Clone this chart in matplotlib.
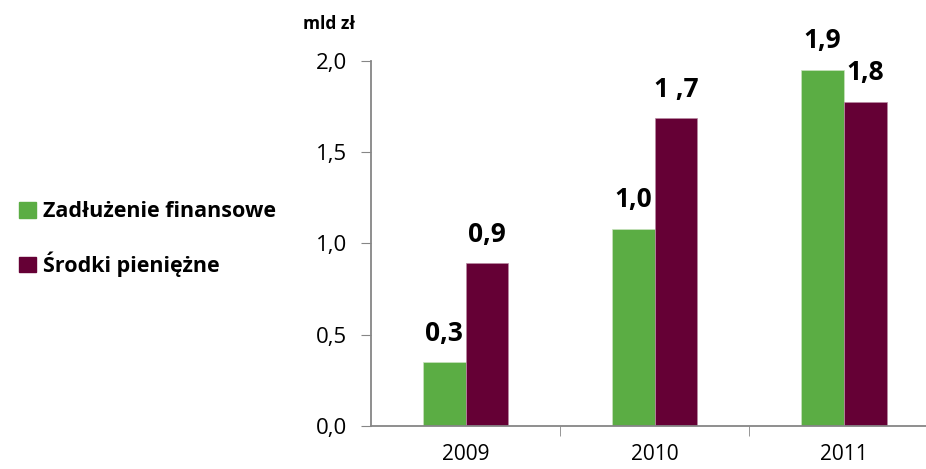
import matplotlib.pyplot as plt
from matplotlib.patches import Patch

years = ["2009", "2010", "2011"]
debt = [0.35, 1.08, 1.95]
cash = [0.89, 1.685, 1.775]
debt_labels = ["0,3", "1,0", "1,9"]
cash_labels = ["0,9", "1 ,7", "1,8"]
yticks = [0.0, 0.5, 1.0, 1.5, 2.0]
ytick_labels = ["0,0", "0,5", "1,0", "1,5", "2,0"]

green = "#5BAD44"
maroon = "#650035"
axis_grey = "#868686"

plt.rcParams['font.family'] = ['Open Sans', 'DejaVu Sans']

fig = plt.figure(figsize=(9.26, 4.69), dpi=100)
ax = fig.add_axes([0.4006, 0.0917, 0.613, 0.779])

w = 0.225
xs = list(range(len(years)))
b1 = ax.bar([x - w / 2 for x in xs], debt, width=w, color=green,
            edgecolor="#C9E3BE", linewidth=0.5)
b2 = ax.bar([x + w / 2 for x in xs], cash, width=w, color=maroon,
            edgecolor="#B98AA3", linewidth=0.5)

# value labels above bars
for bar, lab in zip(b1, debt_labels):
    ax.annotate(lab, (bar.get_x() + bar.get_width() / 2, bar.get_height()),
                xytext=(0, 11), textcoords="offset points", ha="center",
                va="bottom", fontsize=19, fontweight="bold")
for bar, lab in zip(b2, cash_labels):
    ax.annotate(lab, (bar.get_x() + bar.get_width() / 2, bar.get_height()),
                xytext=(0, 11), textcoords="offset points", ha="center",
                va="bottom", fontsize=19, fontweight="bold")

ax.set_xlim(-0.5, 2.5)
ax.set_ylim(0, 2.0)
ax.set_yticks(yticks)
ax.set_yticklabels(ytick_labels, fontsize=16)
ax.set_xticks(xs)
ax.set_xticklabels(years, fontsize=15)
ax.set_xticks([0.5, 1.5], minor=True)
ax.tick_params(axis="x", which="major", length=0, pad=13)
ax.tick_params(axis="x", which="minor", length=7, color=axis_grey, direction="out")
ax.tick_params(axis="y", length=7, color=axis_grey, pad=10)

for s in ["top", "right"]:
    ax.spines[s].set_visible(False)
for s in ["left", "bottom"]:
    ax.spines[s].set_color(axis_grey)
    ax.spines[s].set_linewidth(1.3)

fig.text(0.327, 0.938, "mld zł", fontsize=12.5, fontweight="bold",
         ha="left", va="baseline")

handles = [Patch(color=green), Patch(color=maroon)]
fig.legend(handles, ["Zadłużenie finansowe", "Środki pieniężne"],
           loc="center left", bbox_to_anchor=(0.0, 0.49), frameon=False,
           handlelength=0.75, handleheight=0.75, handletextpad=0.35,
           labelspacing=1.35, prop={"size": 15.5, "weight": "bold"})

fig.savefig("out.png", dpi=100)
